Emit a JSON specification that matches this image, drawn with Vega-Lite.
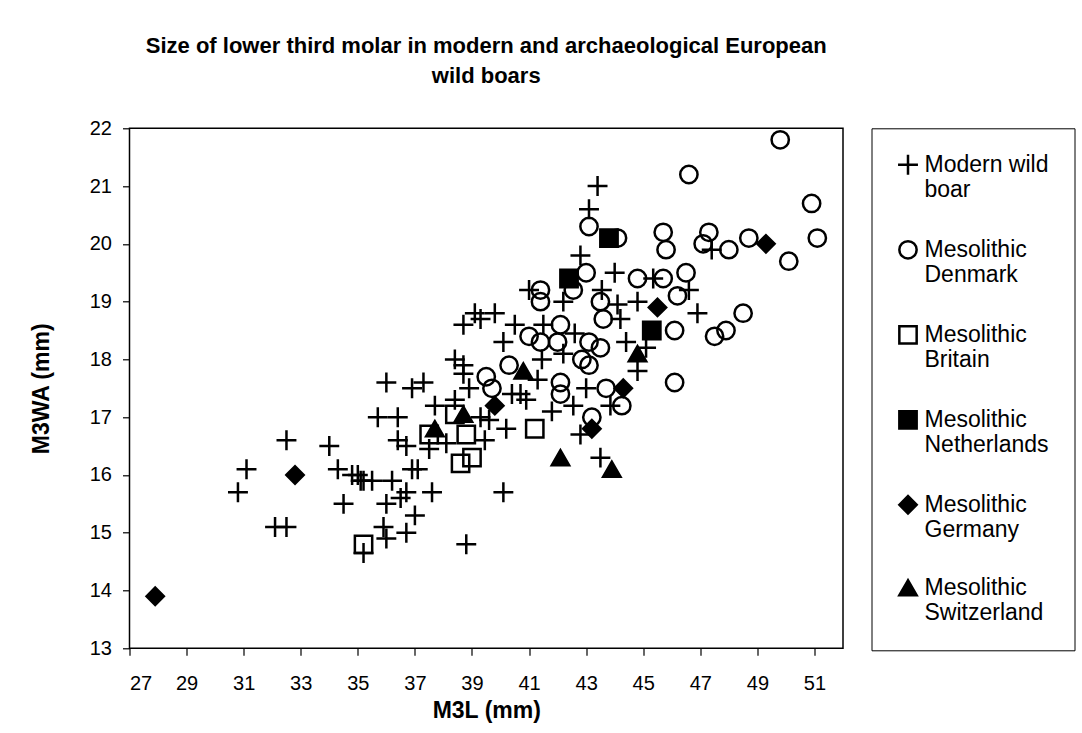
{
  "$schema": "https://vega.github.io/schema/vega-lite/v6.json",
  "autosize": {"type": "none"},
  "padding": {"left": 129.5, "top": 128.3, "right": 239, "bottom": 84.7},
  "width": 713.5,
  "height": 520,
  "background": "white",
  "title": {
    "text": ["Size of lower third molar in modern and archaeological European", "wild boars"],
    "font": "Liberation Sans",
    "fontSize": 22,
    "fontWeight": "bold",
    "color": "black",
    "anchor": "middle",
    "lineHeight": 30,
    "offset": 30
  },
  "config": {
    "view": {"stroke": "black", "strokeWidth": 1.5},
    "axis": {
      "labelFont": "Liberation Sans",
      "titleFont": "Liberation Sans",
      "labelColor": "black",
      "titleColor": "black",
      "tickColor": "black",
      "domain": false,
      "grid": false,
      "labelFontSize": 20,
      "titleFontSize": 23,
      "titleFontWeight": "bold",
      "tickSize": 7,
      "tickWidth": 1.2
    },
    "legend": {
      "labelFont": "Liberation Sans"
    }
  },
  "data": {
    "values": [
      {"Group": "Modern wild boar", "M3L": 30.8, "M3WA": 15.7},
      {"Group": "Modern wild boar", "M3L": 31.1, "M3WA": 16.1},
      {"Group": "Modern wild boar", "M3L": 32.1, "M3WA": 15.1},
      {"Group": "Modern wild boar", "M3L": 32.5, "M3WA": 15.1},
      {"Group": "Modern wild boar", "M3L": 32.5, "M3WA": 16.6},
      {"Group": "Modern wild boar", "M3L": 34.0, "M3WA": 16.5},
      {"Group": "Modern wild boar", "M3L": 34.3, "M3WA": 16.1},
      {"Group": "Modern wild boar", "M3L": 34.5, "M3WA": 15.5},
      {"Group": "Modern wild boar", "M3L": 34.8, "M3WA": 16.0},
      {"Group": "Modern wild boar", "M3L": 35.0, "M3WA": 16.0},
      {"Group": "Modern wild boar", "M3L": 35.1, "M3WA": 15.9},
      {"Group": "Modern wild boar", "M3L": 35.2, "M3WA": 15.9},
      {"Group": "Modern wild boar", "M3L": 35.5, "M3WA": 15.9},
      {"Group": "Modern wild boar", "M3L": 36.2, "M3WA": 15.9},
      {"Group": "Modern wild boar", "M3L": 35.2, "M3WA": 14.65},
      {"Group": "Modern wild boar", "M3L": 35.7, "M3WA": 17.0},
      {"Group": "Modern wild boar", "M3L": 36.4, "M3WA": 17.0},
      {"Group": "Modern wild boar", "M3L": 36.0, "M3WA": 17.6},
      {"Group": "Modern wild boar", "M3L": 36.9, "M3WA": 17.5},
      {"Group": "Modern wild boar", "M3L": 37.3, "M3WA": 17.6},
      {"Group": "Modern wild boar", "M3L": 36.4, "M3WA": 16.6},
      {"Group": "Modern wild boar", "M3L": 36.7, "M3WA": 16.5},
      {"Group": "Modern wild boar", "M3L": 37.5, "M3WA": 16.45},
      {"Group": "Modern wild boar", "M3L": 36.9, "M3WA": 16.1},
      {"Group": "Modern wild boar", "M3L": 37.1, "M3WA": 16.1},
      {"Group": "Modern wild boar", "M3L": 36.7, "M3WA": 15.7},
      {"Group": "Modern wild boar", "M3L": 36.5, "M3WA": 15.6},
      {"Group": "Modern wild boar", "M3L": 37.6, "M3WA": 15.7},
      {"Group": "Modern wild boar", "M3L": 40.1, "M3WA": 15.7},
      {"Group": "Modern wild boar", "M3L": 36.0, "M3WA": 15.5},
      {"Group": "Modern wild boar", "M3L": 37.0, "M3WA": 15.3},
      {"Group": "Modern wild boar", "M3L": 35.9, "M3WA": 15.1},
      {"Group": "Modern wild boar", "M3L": 36.0, "M3WA": 14.9},
      {"Group": "Modern wild boar", "M3L": 36.7, "M3WA": 15.0},
      {"Group": "Modern wild boar", "M3L": 38.8, "M3WA": 14.8},
      {"Group": "Modern wild boar", "M3L": 37.7, "M3WA": 17.2},
      {"Group": "Modern wild boar", "M3L": 38.1, "M3WA": 16.55},
      {"Group": "Modern wild boar", "M3L": 38.4, "M3WA": 17.3},
      {"Group": "Modern wild boar", "M3L": 38.4, "M3WA": 18.0},
      {"Group": "Modern wild boar", "M3L": 38.7, "M3WA": 17.9},
      {"Group": "Modern wild boar", "M3L": 38.7, "M3WA": 17.75},
      {"Group": "Modern wild boar", "M3L": 38.7, "M3WA": 18.6},
      {"Group": "Modern wild boar", "M3L": 39.1, "M3WA": 18.8},
      {"Group": "Modern wild boar", "M3L": 39.3, "M3WA": 18.7},
      {"Group": "Modern wild boar", "M3L": 39.8, "M3WA": 18.8},
      {"Group": "Modern wild boar", "M3L": 40.5, "M3WA": 18.6},
      {"Group": "Modern wild boar", "M3L": 40.1, "M3WA": 18.3},
      {"Group": "Modern wild boar", "M3L": 38.9, "M3WA": 17.5},
      {"Group": "Modern wild boar", "M3L": 39.3, "M3WA": 17.0},
      {"Group": "Modern wild boar", "M3L": 39.6, "M3WA": 16.95},
      {"Group": "Modern wild boar", "M3L": 40.2, "M3WA": 16.8},
      {"Group": "Modern wild boar", "M3L": 39.45, "M3WA": 16.6},
      {"Group": "Modern wild boar", "M3L": 40.4, "M3WA": 17.4},
      {"Group": "Modern wild boar", "M3L": 40.7, "M3WA": 17.4},
      {"Group": "Modern wild boar", "M3L": 40.9, "M3WA": 17.3},
      {"Group": "Modern wild boar", "M3L": 43.4, "M3WA": 21.0},
      {"Group": "Modern wild boar", "M3L": 43.1, "M3WA": 20.6},
      {"Group": "Modern wild boar", "M3L": 42.8, "M3WA": 19.8},
      {"Group": "Modern wild boar", "M3L": 44.0, "M3WA": 19.5},
      {"Group": "Modern wild boar", "M3L": 45.35, "M3WA": 19.4},
      {"Group": "Modern wild boar", "M3L": 46.6, "M3WA": 19.2},
      {"Group": "Modern wild boar", "M3L": 41.0, "M3WA": 19.2},
      {"Group": "Modern wild boar", "M3L": 42.2, "M3WA": 19.0},
      {"Group": "Modern wild boar", "M3L": 43.55, "M3WA": 19.2},
      {"Group": "Modern wild boar", "M3L": 44.1, "M3WA": 18.95},
      {"Group": "Modern wild boar", "M3L": 44.8, "M3WA": 19.0},
      {"Group": "Modern wild boar", "M3L": 46.9, "M3WA": 18.8},
      {"Group": "Modern wild boar", "M3L": 44.2, "M3WA": 18.7},
      {"Group": "Modern wild boar", "M3L": 44.4, "M3WA": 18.3},
      {"Group": "Modern wild boar", "M3L": 45.1, "M3WA": 18.2},
      {"Group": "Modern wild boar", "M3L": 44.8, "M3WA": 17.8},
      {"Group": "Modern wild boar", "M3L": 41.5, "M3WA": 18.6},
      {"Group": "Modern wild boar", "M3L": 42.6, "M3WA": 18.45},
      {"Group": "Modern wild boar", "M3L": 42.2, "M3WA": 18.1},
      {"Group": "Modern wild boar", "M3L": 41.45, "M3WA": 18.0},
      {"Group": "Modern wild boar", "M3L": 41.3, "M3WA": 17.65},
      {"Group": "Modern wild boar", "M3L": 43.0, "M3WA": 17.5},
      {"Group": "Modern wild boar", "M3L": 42.55, "M3WA": 17.2},
      {"Group": "Modern wild boar", "M3L": 41.8, "M3WA": 17.1},
      {"Group": "Modern wild boar", "M3L": 43.85, "M3WA": 17.2},
      {"Group": "Modern wild boar", "M3L": 42.8, "M3WA": 16.7},
      {"Group": "Modern wild boar", "M3L": 43.5, "M3WA": 16.3},
      {"Group": "Modern wild boar", "M3L": 47.4, "M3WA": 19.9},
      {"Group": "Mesolithic Denmark", "M3L": 46.6, "M3WA": 21.2},
      {"Group": "Mesolithic Denmark", "M3L": 49.8, "M3WA": 21.8},
      {"Group": "Mesolithic Denmark", "M3L": 50.9, "M3WA": 20.7},
      {"Group": "Mesolithic Denmark", "M3L": 51.1, "M3WA": 20.1},
      {"Group": "Mesolithic Denmark", "M3L": 50.1, "M3WA": 19.7},
      {"Group": "Mesolithic Denmark", "M3L": 47.3, "M3WA": 20.2},
      {"Group": "Mesolithic Denmark", "M3L": 47.1, "M3WA": 20.0},
      {"Group": "Mesolithic Denmark", "M3L": 48.0, "M3WA": 19.9},
      {"Group": "Mesolithic Denmark", "M3L": 48.7, "M3WA": 20.1},
      {"Group": "Mesolithic Denmark", "M3L": 48.5, "M3WA": 18.8},
      {"Group": "Mesolithic Denmark", "M3L": 47.9, "M3WA": 18.5},
      {"Group": "Mesolithic Denmark", "M3L": 47.5, "M3WA": 18.4},
      {"Group": "Mesolithic Denmark", "M3L": 43.1, "M3WA": 20.3},
      {"Group": "Mesolithic Denmark", "M3L": 44.1, "M3WA": 20.1},
      {"Group": "Mesolithic Denmark", "M3L": 45.7, "M3WA": 20.2},
      {"Group": "Mesolithic Denmark", "M3L": 45.8, "M3WA": 19.9},
      {"Group": "Mesolithic Denmark", "M3L": 43.0, "M3WA": 19.5},
      {"Group": "Mesolithic Denmark", "M3L": 44.8, "M3WA": 19.4},
      {"Group": "Mesolithic Denmark", "M3L": 45.7, "M3WA": 19.4},
      {"Group": "Mesolithic Denmark", "M3L": 46.5, "M3WA": 19.5},
      {"Group": "Mesolithic Denmark", "M3L": 46.2, "M3WA": 19.1},
      {"Group": "Mesolithic Denmark", "M3L": 41.4, "M3WA": 19.2},
      {"Group": "Mesolithic Denmark", "M3L": 41.4, "M3WA": 19.0},
      {"Group": "Mesolithic Denmark", "M3L": 42.55, "M3WA": 19.2},
      {"Group": "Mesolithic Denmark", "M3L": 43.5, "M3WA": 19.0},
      {"Group": "Mesolithic Denmark", "M3L": 43.6, "M3WA": 18.7},
      {"Group": "Mesolithic Denmark", "M3L": 46.1, "M3WA": 18.5},
      {"Group": "Mesolithic Denmark", "M3L": 42.1, "M3WA": 18.6},
      {"Group": "Mesolithic Denmark", "M3L": 41.0, "M3WA": 18.4},
      {"Group": "Mesolithic Denmark", "M3L": 41.4, "M3WA": 18.3},
      {"Group": "Mesolithic Denmark", "M3L": 42.0, "M3WA": 18.3},
      {"Group": "Mesolithic Denmark", "M3L": 43.1, "M3WA": 18.3},
      {"Group": "Mesolithic Denmark", "M3L": 43.5, "M3WA": 18.2},
      {"Group": "Mesolithic Denmark", "M3L": 42.85, "M3WA": 18.0},
      {"Group": "Mesolithic Denmark", "M3L": 43.1, "M3WA": 17.9},
      {"Group": "Mesolithic Denmark", "M3L": 42.1, "M3WA": 17.6},
      {"Group": "Mesolithic Denmark", "M3L": 42.1, "M3WA": 17.4},
      {"Group": "Mesolithic Denmark", "M3L": 43.7, "M3WA": 17.5},
      {"Group": "Mesolithic Denmark", "M3L": 44.25, "M3WA": 17.2},
      {"Group": "Mesolithic Denmark", "M3L": 43.2, "M3WA": 17.0},
      {"Group": "Mesolithic Denmark", "M3L": 46.1, "M3WA": 17.6},
      {"Group": "Mesolithic Denmark", "M3L": 40.3, "M3WA": 17.9},
      {"Group": "Mesolithic Denmark", "M3L": 39.5, "M3WA": 17.7},
      {"Group": "Mesolithic Denmark", "M3L": 39.7, "M3WA": 17.5},
      {"Group": "Mesolithic Britain", "M3L": 35.2, "M3WA": 14.8},
      {"Group": "Mesolithic Britain", "M3L": 37.5, "M3WA": 16.7},
      {"Group": "Mesolithic Britain", "M3L": 38.4, "M3WA": 17.05},
      {"Group": "Mesolithic Britain", "M3L": 38.8, "M3WA": 16.7},
      {"Group": "Mesolithic Britain", "M3L": 38.6, "M3WA": 16.2},
      {"Group": "Mesolithic Britain", "M3L": 39.0, "M3WA": 16.3},
      {"Group": "Mesolithic Britain", "M3L": 41.2, "M3WA": 16.8},
      {"Group": "Mesolithic Netherlands", "M3L": 43.8, "M3WA": 20.1},
      {"Group": "Mesolithic Netherlands", "M3L": 42.4, "M3WA": 19.4},
      {"Group": "Mesolithic Netherlands", "M3L": 45.3, "M3WA": 18.5},
      {"Group": "Mesolithic Germany", "M3L": 27.9, "M3WA": 13.9},
      {"Group": "Mesolithic Germany", "M3L": 32.8, "M3WA": 16.0},
      {"Group": "Mesolithic Germany", "M3L": 39.8, "M3WA": 17.2},
      {"Group": "Mesolithic Germany", "M3L": 45.5, "M3WA": 18.9},
      {"Group": "Mesolithic Germany", "M3L": 49.3, "M3WA": 20.0},
      {"Group": "Mesolithic Germany", "M3L": 44.3, "M3WA": 17.5},
      {"Group": "Mesolithic Germany", "M3L": 43.2, "M3WA": 16.8},
      {"Group": "Mesolithic Switzerland", "M3L": 37.7, "M3WA": 16.8},
      {"Group": "Mesolithic Switzerland", "M3L": 38.7, "M3WA": 17.05},
      {"Group": "Mesolithic Switzerland", "M3L": 40.8, "M3WA": 17.8},
      {"Group": "Mesolithic Switzerland", "M3L": 44.8, "M3WA": 18.1},
      {"Group": "Mesolithic Switzerland", "M3L": 42.1, "M3WA": 16.3},
      {"Group": "Mesolithic Switzerland", "M3L": 43.9, "M3WA": 16.1}
    ]
  },
  "mark": {"type": "point", "strokeWidth": 2.5, "size": 300, "opacity": 1},
  "encoding": {
    "x": {
      "field": "M3L", "type": "quantitative",
      "scale": {"domain": [27, 52], "nice": false, "zero": false},
      "axis": {"title": "M3L (mm)", "values": [27, 29, 31, 33, 35, 37, 39, 41, 43, 45, 47, 49, 51], "labelPadding": 18, "titlePadding": 6}
    },
    "y": {
      "field": "M3WA", "type": "quantitative",
      "scale": {"domain": [13, 22], "nice": false, "zero": false},
      "axis": {"title": "M3WA (mm)", "values": [13, 14, 15, 16, 17, 18, 19, 20, 21, 22], "labelPadding": 11, "titlePadding": 36}
    },
    "shape": {
      "field": "Group", "type": "nominal",
      "scale": {
        "domain": ["Modern wild boar", "Mesolithic Denmark", "Mesolithic Britain", "Mesolithic Netherlands", "Mesolithic Germany", "Mesolithic Switzerland"],
        "range": ["M-1.15,0H1.15M0,-1.15V1.15", "circle", "square", "square", "diamond", "triangle-up"]
      },
      "legend": {
        "title": null,
        "orient": "right",
        "offset": 28,
        "padding": 25,
        "strokeColor": "black",
        "fillColor": "white",
        "labelFontSize": 23,
        "labelColor": "black",
        "labelLineHeight": 27,
        "labelBaseline": "middle",
        "labelLimit": 300,
        "labelOffset": 5,
        "symbolSize": 300,
        "symbolStrokeWidth": 2.5,
        "rowPadding": 33,
        "labelExpr": "datum.label == 'Modern wild boar' ? ['Modern wild', 'boar'] : ['Mesolithic', substring(datum.label, 11)]"
      }
    },
    "fill": {
      "field": "Group", "type": "nominal",
      "scale": {
        "domain": ["Modern wild boar", "Mesolithic Denmark", "Mesolithic Britain", "Mesolithic Netherlands", "Mesolithic Germany", "Mesolithic Switzerland"],
        "range": ["transparent", "transparent", "transparent", "black", "black", "black"]
      }
    },
    "stroke": {
      "field": "Group", "type": "nominal",
      "scale": {
        "domain": ["Modern wild boar", "Mesolithic Denmark", "Mesolithic Britain", "Mesolithic Netherlands", "Mesolithic Germany", "Mesolithic Switzerland"],
        "range": ["black", "black", "black", "black", "black", "black"]
      }
    }
  }
}
